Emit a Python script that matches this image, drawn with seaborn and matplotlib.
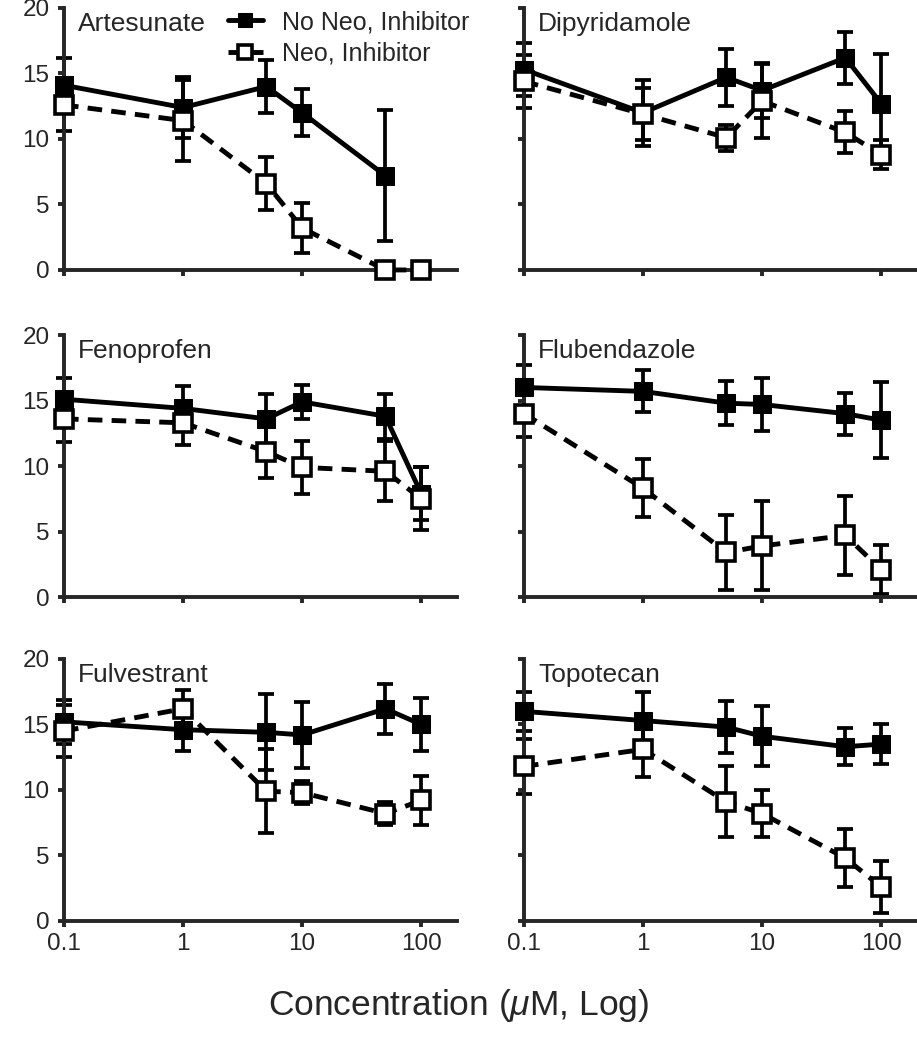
import numpy as np
import pandas as pd
import seaborn as sns
import matplotlib.pyplot as plt

# concentration (uM), log axis
conc = [0.1, 1, 5, 10, 50, 100]

drugs = ['Artesunate', 'Dipyridamole', 'Fenoprofen', 'Flubendazole', 'Fulvestrant', 'Topotecan']

# "No Neo, Inhibitor" (filled squares) means and error bars
noneo_mean = {
    'Artesunate':   [14.1, 12.4, 14.0, 12.0, 7.2, np.nan],
    'Dipyridamole': [15.3, 12.0, 14.7, 13.7, 16.2, 12.7],
    'Fenoprofen':   [15.1, 14.4, 13.6, 14.9, 13.8, 7.9],
    'Flubendazole': [16.0, 15.7, 14.8, 14.7, 14.0, 13.5],
    'Fulvestrant':  [15.2, 14.6, 14.4, 14.2, 16.2, 15.0],
    'Topotecan':    [16.0, 15.3, 14.8, 14.1, 13.3, 13.5],
}
noneo_err = {
    'Artesunate':   [2.1, 2.3, 2.0, 1.8, 5.0, np.nan],
    'Dipyridamole': [2.0, 2.5, 2.2, 2.1, 2.0, 3.8],
    'Fenoprofen':   [1.6, 1.7, 1.9, 1.3, 1.7, 2.0],
    'Flubendazole': [1.7, 1.6, 1.7, 2.0, 1.6, 2.9],
    'Fulvestrant':  [1.7, 1.6, 2.9, 2.5, 1.9, 2.0],
    'Topotecan':    [1.5, 2.2, 2.0, 2.3, 1.4, 1.5],
}
# "Neo, Inhibitor" (open squares) means and error bars
neo_mean = {
    'Artesunate':   [12.6, 11.4, 6.6, 3.2, 0.0, 0.0],
    'Dipyridamole': [14.4, 11.9, 10.1, 12.9, 10.5, 8.8],
    'Fenoprofen':   [13.6, 13.3, 11.1, 9.9, 9.6, 7.5],
    'Flubendazole': [14.0, 8.3, 3.4, 3.9, 4.7, 2.1],
    'Fulvestrant':  [14.5, 16.2, 9.9, 9.8, 8.2, 9.2],
    'Topotecan':    [11.8, 13.1, 9.1, 8.2, 4.8, 2.6],
}
neo_err = {
    'Artesunate':   [2.0, 3.1, 2.0, 1.9, 0.0, 0.0],
    'Dipyridamole': [2.0, 2.0, 1.0, 2.8, 1.6, 1.1],
    'Fenoprofen':   [1.8, 1.7, 2.0, 2.0, 2.3, 2.4],
    'Flubendazole': [1.8, 2.2, 2.9, 3.4, 3.0, 1.9],
    'Fulvestrant':  [2.0, 1.4, 3.2, 0.9, 0.85, 1.9],
    'Topotecan':    [2.1, 2.1, 2.7, 1.8, 2.2, 2.0],
}

sns.set_style('ticks')
plt.rcParams['font.family'] = ['Liberation Sans', 'DejaVu Sans']
plt.rcParams['mathtext.fontset'] = 'custom'
plt.rcParams['mathtext.it'] = 'Liberation Sans:italic'
plt.rcParams['mathtext.rm'] = 'Liberation Sans'

fig = plt.figure(figsize=(9.17, 10.5), dpi=100)

lefts = [0.0698, 0.5714]
bottoms = [0.7429, 0.4314, 0.1229]
w, h = 0.4286, 0.2495

lw = 3.5
elw = 2.7
dash = (0, (3.0, 1.9))

axes = []
for i, drug in enumerate(drugs):
    r, c = divmod(i, 2)
    ax = fig.add_axes([lefts[c], bottoms[r], w, h])
    axes.append(ax)

    df = pd.DataFrame({'conc': conc,
                       'noneo': noneo_mean[drug], 'noneo_err': noneo_err[drug],
                       'neo': neo_mean[drug], 'neo_err': neo_err[drug]})

    ax.errorbar(df['conc'], df['noneo'], yerr=df['noneo_err'], fmt='none', ecolor='black',
                elinewidth=elw, capsize=5.5, capthick=elw, clip_on=False, zorder=2)
    ax.errorbar(df['conc'], df['neo'], yerr=df['neo_err'], fmt='none', ecolor='black',
                elinewidth=elw, capsize=5.5, capthick=elw, clip_on=False, zorder=2)

    sns.lineplot(data=df.dropna(subset=['noneo']), x='conc', y='noneo', ax=ax, color='black',
                 lw=lw, marker='s', markersize=12.5, markerfacecolor='black',
                 markeredgecolor='black', estimator=None, clip_on=False, zorder=3,
                 label='No Neo, Inhibitor')
    sns.lineplot(data=df, x='conc', y='neo', ax=ax, color='black',
                 lw=lw, linestyle=dash, marker='s', markersize=12.5, markerfacecolor='white',
                 markeredgecolor='black', markeredgewidth=2.6, estimator=None,
                 clip_on=False, zorder=4, label='Neo, Inhibitor')

    ax.set_xscale('log')
    ax.set_xlim(0.1, 200)
    ax.set_ylim(0, 20)
    ax.set_xticks([0.1, 1, 10, 100])
    ax.minorticks_off()
    ax.set_yticks([0, 5, 10, 15, 20])
    ax.set_xlabel('')
    ax.set_ylabel('')
    sns.despine(ax=ax)
    for s in ['left', 'bottom']:
        ax.spines[s].set_linewidth(2.8)
    ax.tick_params(direction='out', length=4.5, width=2.8, labelsize=17.5, pad=4)
    ax.tick_params(axis='y', pad=6)
    if r == 2:
        ax.set_xticklabels(['0.1', '1', '10', '100'])
    else:
        ax.set_xticklabels([])
    if c == 0:
        ax.set_yticklabels(['0', '5', '10', '15', '20'])
    else:
        ax.set_yticklabels([])
    ax.patch.set_alpha(0)

    ax.text(0.036, 0.985, drug, transform=ax.transAxes, fontsize=19, va='top', ha='left')

    if i == 0:
        ax.legend(loc='upper left', bbox_to_anchor=(0.385, 1.04), frameon=False, fontsize=18,
                  handlelength=1.4, handletextpad=0.75, borderpad=0, labelspacing=0.3,
                  markerscale=0.75)
    else:
        leg = ax.get_legend()
        if leg is not None:
            leg.remove()

fig.text(0.5, 0.042, r'Concentration ($\mathit{\mu}$M, Log)', ha='center', va='center', fontsize=25.5)

fig.savefig('out.png', dpi=100)
